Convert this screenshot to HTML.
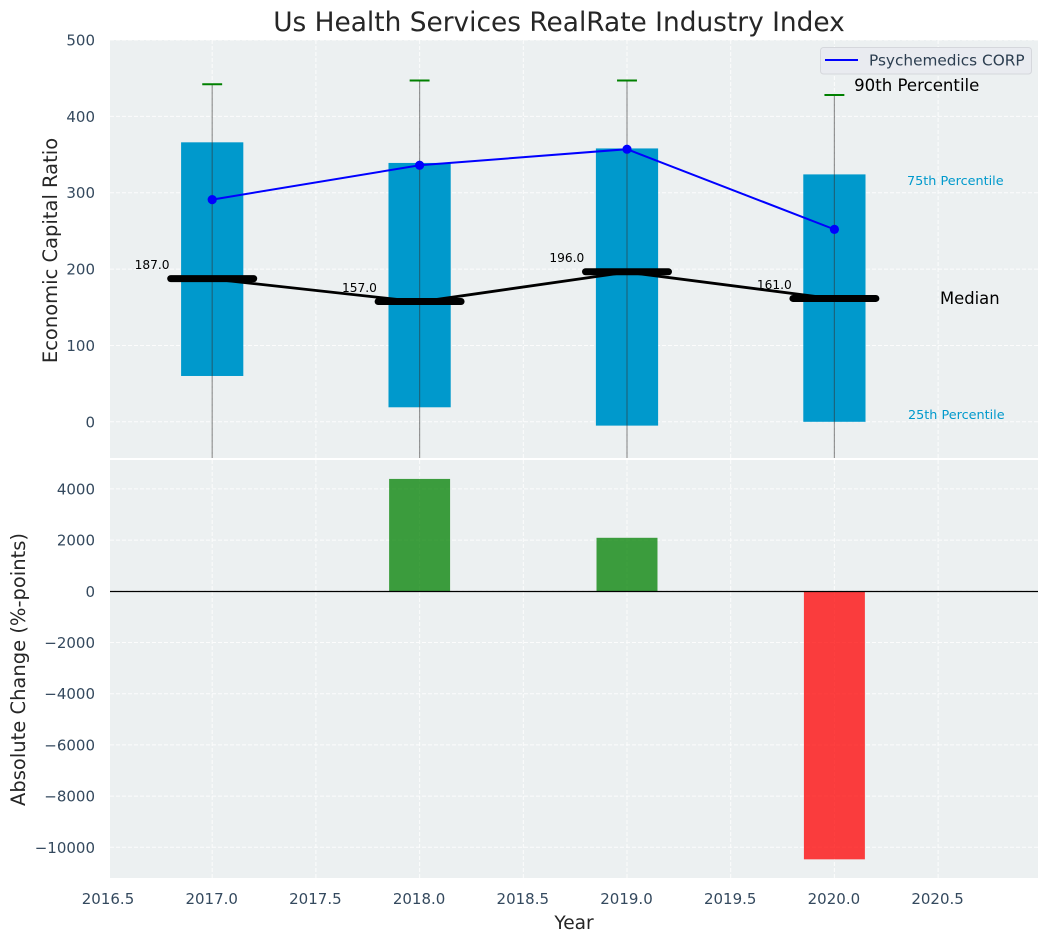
<!DOCTYPE html>
<html>
<head>
<meta charset="utf-8">
<title>Us Health Services RealRate Industry Index</title>
<style>
html,body{margin:0;padding:0;background:#fff;width:1048px;height:942px;overflow:hidden}
svg{display:block;font-family:"DejaVu Sans","Liberation Sans",sans-serif}
</style>
</head>
<body>
<svg id="chart" xmlns="http://www.w3.org/2000/svg" width="1048" height="942" viewBox="0 0 1048 942"></svg>
<script>
// ---- chart data ----
const years = [2017, 2018, 2019, 2020];
const p90 = [442, 447, 447, 428];
const p75 = [366, 339, 358, 324];
const medians = [187, 157, 196, 161];
const p25 = [60, 19, -5, 0];
const p10 = [-100, -100, -100, -100];
const companyValues = [291, 336, 357, 252];
const absoluteChange = [0, 4390, 2090, -10470];
const xTicks = [2016.5, 2017, 2017.5, 2018, 2018.5, 2019, 2019.5, 2020, 2020.5];
const topYTicks = [0, 100, 200, 300, 400, 500];
const bottomYTicks = [-10000, -8000, -6000, -4000, -2000, 0, 2000, 4000];

const svg = document.getElementById('chart');
const NS = 'http://www.w3.org/2000/svg';
const L = 110, R = 1038;
const topT = 40, topB = 458, botT = 460, botB = 878;

function X(v) { return 212.2 + (v - 2017) * 207.4; }
function Y1(v) { return 421.8 - v * 0.7636; }
function Y2(v) { return 591.3 - v * 0.0256; }

function add(parent, tag, attrs, text) {
  const el = document.createElementNS(NS, tag);
  for (const k in attrs) el.setAttribute(k, attrs[k]);
  if (text !== undefined) el.textContent = text;
  parent.appendChild(el);
  return el;
}

const defs = add(svg, 'defs', {});
const cp1 = add(defs, 'clipPath', { id: 'clip-top' });
add(cp1, 'rect', { x: L, y: topT, width: R - L, height: topB - topT });
const cp2 = add(defs, 'clipPath', { id: 'clip-bot' });
add(cp2, 'rect', { x: L, y: botT, width: R - L, height: botB - botT });

// panels
const topBg = add(svg, 'rect', { x: L, y: topT, width: R - L, height: topB - topT, fill: '#ecf0f1' });


const botBg = add(svg, 'rect', { x: L, y: botT, width: R - L, height: botB - botT, fill: '#ecf0f1' });



// grids
const gridAttrs = { stroke: '#ffffff', 'stroke-width': 1, 'stroke-dasharray': '4 2', opacity: 0.85 };
const grid1 = add(svg, 'g', Object.assign({ 'clip-path': 'url(#clip-top)' }, gridAttrs));


const grid2 = add(svg, 'g', Object.assign({ 'clip-path': 'url(#clip-bot)' }, gridAttrs));


xTicks.forEach(function (t) {
  add(grid1, 'line', { x1: X(t), x2: X(t), y1: topT, y2: topB });
  add(grid2, 'line', { x1: X(t), x2: X(t), y1: botT, y2: botB });
});
topYTicks.forEach(function (t) {
  add(grid1, 'line', { x1: L, x2: R, y1: Y1(t), y2: Y1(t) });
});
bottomYTicks.forEach(function (t) {
  add(grid2, 'line', { x1: L, x2: R, y1: Y2(t), y2: Y2(t) });
});

// tick labels
const tickColor = '#34495e';
xTicks.forEach(function (t) {
  const el = add(svg, 'text', { x: X(t) - 0.5, y: 904, 'text-anchor': 'middle', 'font-size': 15, fill: tickColor }, t.toFixed(1));
  
  
});
topYTicks.forEach(function (t) {
  const el = add(svg, 'text', { x: 95, y: Y1(t) + 5.5, 'text-anchor': 'end', 'font-size': 15, fill: tickColor }, String(t));
  
  
});
bottomYTicks.forEach(function (t) {
  const label = t < 0 ? '\u2212' + Math.abs(t) : String(t);
  const el = add(svg, 'text', { x: 95, y: Y2(t) + 5.5, 'text-anchor': 'end', 'font-size': 15, fill: tickColor }, label);
  
  
});

// top panel marks
const topG = add(svg, 'g', { 'clip-path': 'url(#clip-top)' });



years.forEach(function (yr, i) {
  const box = add(topG, 'rect', {
    x: X(yr - 0.15), y: Y1(p75[i]), width: X(yr + 0.15) - X(yr - 0.15),
    height: Y1(p25[i]) - Y1(p75[i]), fill: '#0099cc'
  });
  
  
});
years.forEach(function (yr, i) {
  const whisker = add(topG, 'line', {
    x1: X(yr), x2: X(yr), y1: Y1(p90[i]), y2: Y1(p10[i]),
    stroke: '#333333', 'stroke-width': 1.2, opacity: 0.5
  });
  
  
  const cap = add(topG, 'line', {
    x1: X(yr - 0.048), x2: X(yr + 0.048), y1: Y1(p90[i]), y2: Y1(p90[i]),
    stroke: '#008000', 'stroke-width': 2
  });
  
  
});

const medianLine = add(topG, 'polyline', {
  points: years.map(function (yr, i) { return X(yr) + ',' + Y1(medians[i]); }).join(' '),
  fill: 'none', stroke: '#000000', 'stroke-width': 2.8
});



years.forEach(function (yr, i) {
  const bar = add(topG, 'line', {
    x1: X(yr - 0.2), x2: X(yr + 0.2), y1: Y1(medians[i]) - 0.4, y2: Y1(medians[i]) - 0.4,
    stroke: '#000000', 'stroke-width': 7, 'stroke-linecap': 'round'
  });
  
  
});

const companyLine = add(topG, 'polyline', {
  points: years.map(function (yr, i) { return X(yr) + ',' + Y1(companyValues[i]); }).join(' '),
  fill: 'none', stroke: '#0000ff', 'stroke-width': 2
});


years.forEach(function (yr, i) {
  const dot = add(topG, 'circle', { cx: X(yr), cy: Y1(companyValues[i]), r: 4.6, fill: '#0000ff' });
  
  
});

years.forEach(function (yr, i) {
  const lab = add(svg, 'text', {
    x: X(yr - 0.2) - 1.2, y: Y1(medians[i]) - 10, 'text-anchor': 'end', 'font-size': 12.2, fill: '#000000'
  }, medians[i].toFixed(1));
  
  
});

// annotations
const a90 = add(svg, 'text', { x: X(2020.095), y: 91, 'font-size': 16.6, fill: '#000000' }, '90th Percentile');


const a75 = add(svg, 'text', { x: 907, y: 185, 'font-size': 12.8, fill: '#0099cc' }, '75th Percentile');


const aMed = add(svg, 'text', { x: 940, y: 304, 'font-size': 16.4, fill: '#000000' }, 'Median');


const a25 = add(svg, 'text', { x: 908, y: 419, 'font-size': 12.8, fill: '#0099cc' }, '25th Percentile');



// legend
const legend = add(svg, 'g', {});


add(legend, 'rect', { x: 820.5, y: 47.5, width: 211, height: 26.5, rx: 3, fill: '#e9ebf0', stroke: '#d5d7dc', 'stroke-width': 1 });
const legLine = add(legend, 'line', { x1: 825, x2: 858, y1: 60, y2: 60, stroke: '#0000ff', 'stroke-width': 2 });


const legText = add(legend, 'text', { x: 869, y: 65.5, 'font-size': 15.3, fill: '#2c3e50' }, 'Psychemedics CORP');



// bottom panel marks
const botG = add(svg, 'g', { 'clip-path': 'url(#clip-bot)' });


years.forEach(function (yr, i) {
  const v = absoluteChange[i];
  if (!v) return;
  const bar = add(botG, 'rect', {
    x: X(yr - 0.147), width: X(yr + 0.147) - X(yr - 0.147),
    y: Math.min(Y2(v), Y2(0)), height: Math.abs(Y2(v) - Y2(0)),
    fill: v > 0 ? '#008000' : '#ff0000', 'fill-opacity': 0.75
  });
  
  
});
const zero = add(svg, 'line', { x1: L, x2: R, y1: 591.5, y2: 591.5, stroke: '#000000', 'stroke-width': 1.2 });



// titles
const title = add(svg, 'text', { x: 559, y: 31, 'text-anchor': 'middle', 'font-size': 26.4, fill: '#262626' }, 'Us Health Services RealRate Industry Index');


const xTitle = add(svg, 'text', { x: 574, y: 929, 'text-anchor': 'middle', 'font-size': 18.6, fill: '#262626' }, 'Year');


const yTop = add(svg, 'text', { x: 0, y: 0, 'text-anchor': 'middle', 'font-size': 19.5, fill: '#262626', transform: 'translate(57,250.5) rotate(-90)' }, 'Economic Capital Ratio');


const yBot = add(svg, 'text', { x: 0, y: 0, 'text-anchor': 'middle', 'font-size': 19.5, fill: '#262626', transform: 'translate(25,669.5) rotate(-90)' }, 'Absolute Change (%-points)');


</script>
</body>
</html>
